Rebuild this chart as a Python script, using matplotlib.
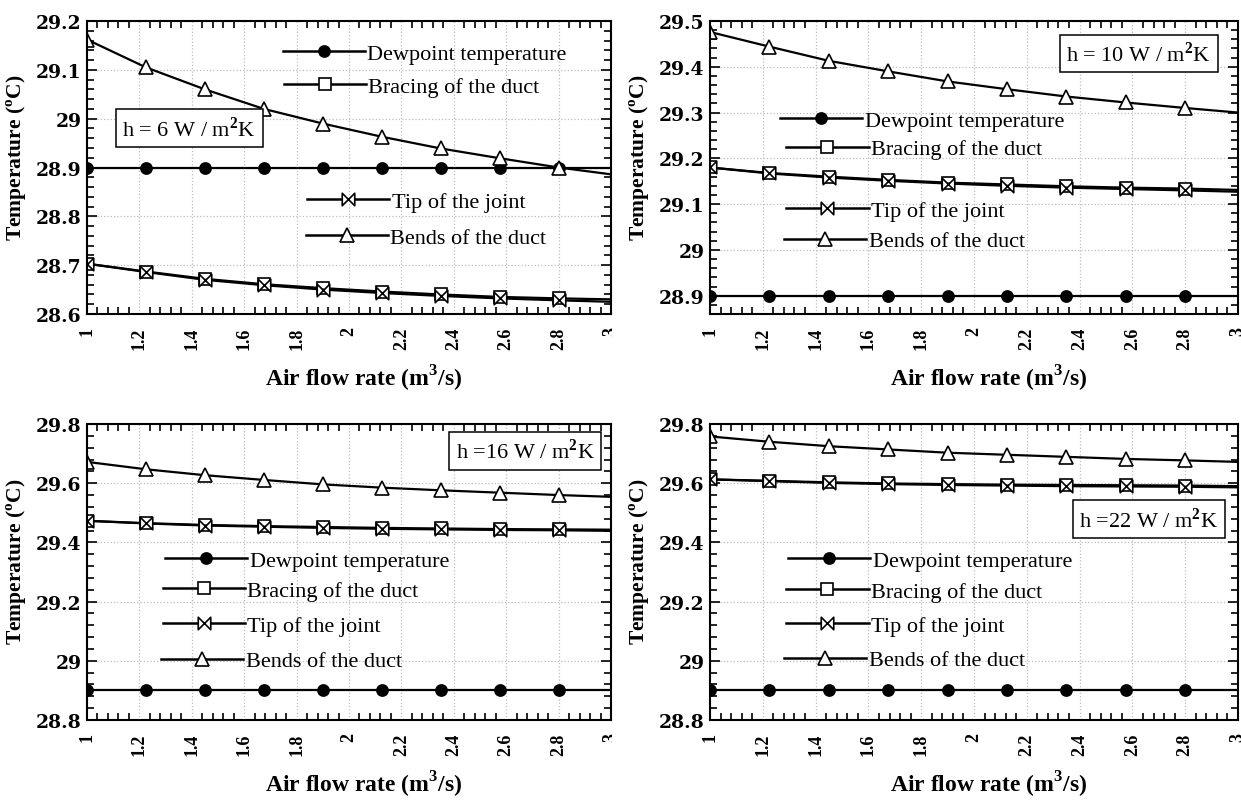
import matplotlib
matplotlib.use("Agg")
import matplotlib.pyplot as plt
from matplotlib.path import Path
from matplotlib.lines import Line2D
from matplotlib.legend import Legend
from matplotlib.patches import Rectangle
from matplotlib.ticker import MultipleLocator, FormatStrFormatter

plt.rcParams["font.family"] = ["Liberation Serif", "DejaVu Serif"]
plt.rcParams["font.weight"] = "bold"
plt.rcParams["axes.labelweight"] = "bold"
plt.rcParams["mathtext.fontset"] = "custom"
plt.rcParams["mathtext.rm"] = "Liberation Serif"
plt.rcParams["mathtext.bf"] = "Liberation Serif:bold"

# air flow rate (m3/s), marker every 0.225, line ends at 3
airflow = [1.0, 1.225, 1.45, 1.675, 1.9, 2.125, 2.35, 2.575, 2.8, 3.0]
dewpoint = [28.9] * 10

bends_h6 = [29.162, 29.105, 29.06, 29.02, 28.99, 28.963, 28.939, 28.919, 28.90, 28.886]
brace_h6 = [28.703, 28.687, 28.672, 28.661, 28.653, 28.646, 28.640, 28.635, 28.632, 28.630]
tip_h6 = [28.703, 28.686, 28.670, 28.659, 28.650, 28.643, 28.637, 28.632, 28.628, 28.625]

bends_h10 = [29.476, 29.444, 29.413, 29.39, 29.368, 29.351, 29.335, 29.322, 29.31, 29.30]
brace_h10 = [29.18, 29.168, 29.16, 29.153, 29.147, 29.143, 29.139, 29.136, 29.134, 29.131]
tip_h10 = [29.18, 29.167, 29.158, 29.151, 29.145, 29.14, 29.136, 29.133, 29.13, 29.127]

bends_h16 = [29.672, 29.647, 29.627, 29.611, 29.596, 29.585, 29.576, 29.568, 29.56, 29.554]
brace_h16 = [29.473, 29.465, 29.459, 29.455, 29.452, 29.449, 29.447, 29.445, 29.444, 29.443]
tip_h16 = [29.473, 29.464, 29.457, 29.453, 29.449, 29.446, 29.444, 29.442, 29.441, 29.439]

bends_h22 = [29.758, 29.740, 29.725, 29.714, 29.703, 29.696, 29.689, 29.682, 29.677, 29.672]
brace_h22 = [29.613, 29.608, 29.603, 29.599, 29.597, 29.595, 29.594, 29.593, 29.592, 29.59]
tip_h22 = [29.613, 29.607, 29.601, 29.597, 29.594, 29.592, 29.59, 29.589, 29.588, 29.586]

labels = ["Dewpoint temperature", "Bracing of the duct", "Tip of the joint", "Bends of the duct"]
box_texts = ["h = 6 W / m$^2$K", "h = 10 W / m$^2$K", "h =16 W / m$^2$K", "h =22 W / m$^2$K"]

# bowtie marker for "Tip of the joint"
bowtie = Path([(-1, -1), (1, 1), (1, -1), (-1, 1), (-1, -1)],
              [Path.MOVETO, Path.LINETO, Path.LINETO, Path.LINETO, Path.CLOSEPOLY])

styles = [
    dict(marker="o", ms=8, mfc="k", mec="k"),
    dict(marker="s", ms=9, mfc="white", mec="k"),
    dict(marker=bowtie, ms=9, mfc="white", mec="k"),
    dict(marker="^", ms=10.5, mfc="white", mec="k"),
]

W, H = 1241, 804


def rect(x0, x1, y0, y1):
    return [x0 / W, 1 - y1 / H, (x1 - x0) / W, (y1 - y0) / H]


def draw_panel(ax, series, ylim, ystep, yminor, leg_pos, box_text, box_xy):
    for vals, st in zip(series, styles):
        ax.plot(airflow, vals, color="k", lw=1.6, mew=1.2, markevery=slice(0, 9), **st)

    for st, lab, (lx, ly) in zip(styles, labels, leg_pos):
        proxy = Line2D([], [], color="k", lw=1.8, mew=1.2, **st)
        leg = Legend(ax, [proxy], [lab], loc="center left", bbox_to_anchor=(lx, ly),
                     bbox_transform=ax.transData, frameon=False, handlelength=3.7,
                     handletextpad=0.1, borderpad=0, borderaxespad=0, numpoints=1,
                     prop=dict(family="Liberation Serif", size=16, weight="normal"))
        ax.add_artist(leg)

    ax.text(box_xy[0], box_xy[1], box_text, transform=ax.transAxes, ha="center", va="center",
            fontsize=16, fontweight="normal", fontfamily="Liberation Serif",
            bbox=dict(boxstyle="square,pad=0.3", fc="white", ec="k", lw=1.1))

    ax.set_xlim(1, 3)
    ax.set_ylim(*ylim)
    ax.xaxis.set_major_locator(MultipleLocator(0.2))
    ax.xaxis.set_minor_locator(MultipleLocator(0.04))
    ax.yaxis.set_major_locator(MultipleLocator(ystep))
    ax.yaxis.set_minor_locator(MultipleLocator(yminor))
    ax.xaxis.set_major_formatter(FormatStrFormatter("%g"))
    ax.yaxis.set_major_formatter(FormatStrFormatter("%g"))
    ax.grid(which="major", color="#bdbdbd", linestyle=":", linewidth=0.9)
    ax.set_axisbelow(True)

    ax.tick_params(which="both", direction="in", top=True, right=True, width=1.2)
    ax.tick_params(axis="x", which="major", length=0, pad=9, labelsize=13, labelrotation=90)
    ax.tick_params(axis="x", which="minor", length=5)
    ax.tick_params(axis="y", which="major", length=7, pad=4, labelsize=13.5,
                   labelfontfamily="DejaVu Serif")
    ax.tick_params(axis="y", which="minor", length=5)
    for sp in ax.spines.values():
        sp.set_linewidth(1.5)

    ax.set_xlabel(r"Air flow rate (m$^{\mathbf{3}}$/s)", fontsize=17, fontweight="bold",
                  labelpad=10)
    ax.set_ylabel(r"Temperature ($^{\mathbf{o}}$C)", fontsize=15.5, fontweight="bold",
                  labelpad=5)
    # labels sit a little off-centre in the original
    ax.xaxis.get_label().set_x(0.528)
    ax.yaxis.get_label().set_y(0.537)


fig = plt.figure(figsize=(W / 100, H / 100), dpi=100)

ax1 = fig.add_axes(rect(87, 611, 22, 315))
draw_panel(ax1, [dewpoint, brace_h6, tip_h6, bends_h6], (28.6, 29.2), 0.1, 0.02,
           [(1.748, 29.134), (1.752, 29.066), (1.84, 28.83), (1.835, 28.756)],
           box_texts[0], (0.195, 0.634))

ax2 = fig.add_axes(rect(710, 1238, 22, 315))
draw_panel(ax2, [dewpoint, brace_h10, tip_h10, bends_h10], (28.86, 29.5), 0.1, 0.02,
           [(1.266, 29.282), (1.289, 29.22), (1.289, 29.085), (1.281, 29.019)],
           box_texts[1], (0.812, 0.889))

ax3 = fig.add_axes(rect(87, 611, 425, 721))
draw_panel(ax3, [dewpoint, brace_h16, tip_h16, bends_h16], (28.8, 29.8), 0.2, 0.04,
           [(1.298, 29.338), (1.29, 29.236), (1.29, 29.12), (1.283, 28.999)],
           box_texts[2], (0.836, 0.91))

ax4 = fig.add_axes(rect(710, 1238, 425, 721))
draw_panel(ax4, [dewpoint, brace_h22, tip_h22, bends_h22], (28.8, 29.8), 0.2, 0.04,
           [(1.296, 29.338), (1.289, 29.234), (1.289, 29.12), (1.281, 29.002)],
           box_texts[3], (0.831, 0.678))

# left panels were cropped just right of the axes in the original
for y0, y1 in [(318, 352), (724, 758)]:
    fig.add_artist(Rectangle((612 / W, 1 - y1 / H), 22 / W, (y1 - y0) / H,
                             transform=fig.transFigure, fc="white", ec="none", zorder=10))

fig.savefig("out.png", dpi=100)
